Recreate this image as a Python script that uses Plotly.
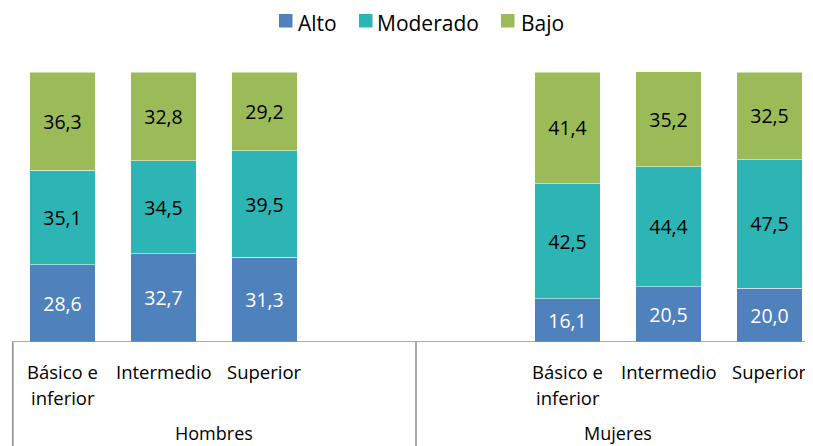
import plotly.graph_objects as go

# ---- data ----
groups = ["Hombres", "Mujeres"]
levels = ["Básico e<br>inferior", "Intermedio", "Superior"]
# category slots (two empty slots separate the groups)
categories = ["H-Basico", "H-Intermedio", "H-Superior", "gap1", "gap2",
              "M-Basico", "M-Intermedio", "M-Superior"]
bar_categories = ["H-Basico", "H-Intermedio", "H-Superior",
                  "M-Basico", "M-Intermedio", "M-Superior"]
alto = [28.6, 32.7, 31.3, 16.1, 20.5, 20.0]
moderado = [35.1, 34.5, 39.5, 42.5, 44.4, 47.5]
bajo = [36.3, 32.8, 29.2, 41.4, 35.2, 32.5]
series_names = ["Alto", "Moderado", "Bajo"]

colors = ["#4F81BD", "#2CB5B4", "#9BBB59"]
text_colors = ["white", "black", "black"]
FONT = "Open Sans"

OFF = 8  # page body margin
W, H = 813 - OFF, 446 - OFF
ml, mr, mt, mb = 12 - OFF, 0, 72 - OFF, 446 - 342
plot_w = W - ml - mr
plot_h = H - mt - mb
slot_px = 101.0

def xpx(p):
    return (p - OFF - ml) / plot_w

def ypx(p):
    return (H - mb - (p - OFF)) / plot_h

fig = go.Figure()
for name, vals, col, tc in zip(series_names, [alto, moderado, bajo], colors, text_colors):
    fig.add_trace(go.Bar(
        name=name, x=bar_categories, y=vals,
        marker=dict(color=col, line=dict(color="rgba(255,255,255,0.5)", width=1)),
        texttemplate="%{y:.1f}", textposition="inside", insidetextanchor="middle",
        textfont=dict(family=FONT, size=19.5, color=tc),
        textangle=0, showlegend=False,
    ))

LC = "#8C8C8C"
shapes = []
shapes.append(dict(type="line", xref="paper", yref="y", x0=0, x1=1, y0=0, y1=0,
                   line=dict(color=LC, width=1.5)))
shapes.append(dict(type="line", xref="paper", yref="paper", x0=0.001, x1=0.001,
                   y0=0, y1=ypx(446 + 10), line=dict(color=LC, width=1.5)))
shapes.append(dict(type="line", xref="x", yref="paper", x0=3.5, x1=3.5,
                   y0=0, y1=ypx(446 + 10), line=dict(color=LC, width=1.5)))

annotations = []
label_slots = [0, 1, 2, 5, 6, 7]
for i, s in enumerate(label_slots):
    lines = levels[i % 3].split("<br>")
    for j, ln in enumerate(lines):
        annotations.append(dict(
            x=s, y=ypx(371 + 26 * j), xref="x", yref="paper",
            text=ln, showarrow=False, yanchor="middle", xanchor="center",
            font=dict(family=FONT, size=18.5, color="black")))
for g, cx in zip(groups, [1.5, 5.5]):
    annotations.append(dict(
        x=cx, y=ypx(446), xref="x", yref="paper", text=g, showarrow=False,
        yanchor="bottom", xanchor="center", borderpad=0,
        font=dict(family=FONT, size=18, color="black")))

# manual legend (square swatches + labels)
legend_sq_x = [279, 359, 501]
legend_txt_x = [297, 376, 520]
for name, col, sx, tx in zip(series_names, colors, legend_sq_x, legend_txt_x):
    shapes.append(dict(type="rect", xref="paper", yref="paper",
                       x0=xpx(sx), x1=xpx(sx + 13.5), y0=ypx(14), y1=ypx(27.5),
                       fillcolor=col, line=dict(width=0)))
    annotations.append(dict(x=xpx(tx), y=ypx(OFF), xref="paper", yref="paper",
                            text=name, showarrow=False, xanchor="left", yanchor="top",
                            borderpad=0,
                            font=dict(family=FONT, size=21, color="black")))

fig.update_layout(
    width=W, height=H,
    margin=dict(l=ml, r=mr, t=mt, b=mb, pad=0),
    barmode="stack", bargap=0.347,
    separators=",.",
    plot_bgcolor="white", paper_bgcolor="white",
    font=dict(family=FONT, size=18, color="black"),
    showlegend=False,
    xaxis=dict(type="category", categoryorder="array", categoryarray=categories,
               range=[-0.5, -0.5 + plot_w / slot_px], showticklabels=False,
               showgrid=False, zeroline=False, showline=False, ticks=""),
    yaxis=dict(range=[0, 100], visible=False, showgrid=False),
    shapes=shapes, annotations=annotations,
)

fig.write_html("out.html")
